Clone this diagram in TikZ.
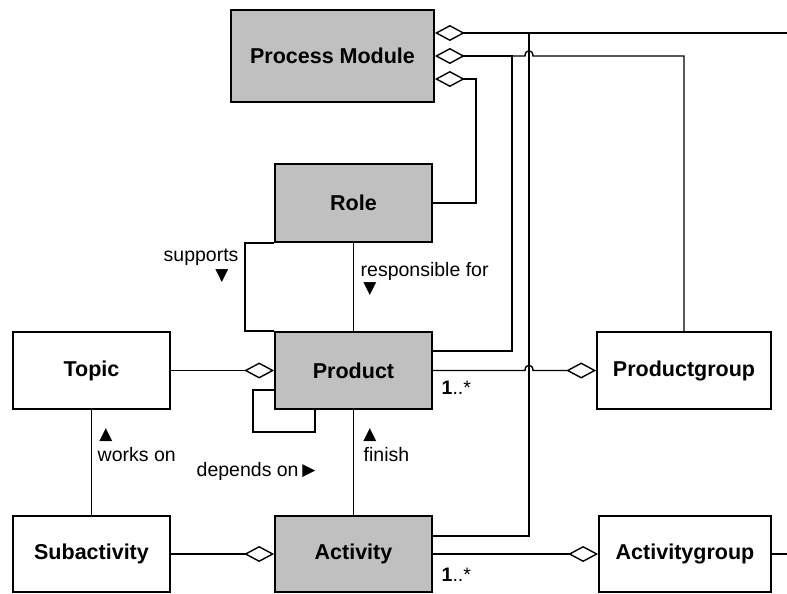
\documentclass[tikz,border=0pt]{standalone}
\usepackage{fontspec}
\setmainfont{Liberation Sans}
\newfontfamily\symfont{DejaVu Sans}
\usetikzlibrary{arrows.meta}
\definecolor{box_grey}{HTML}{C0C0C0}

\tikzset{
	cls/.style={draw, line width=1.7pt, minimum width=157pt, minimum height=77pt, inner sep=0pt, font=\fontsize{21.5}{26}\selectfont\bfseries},
	core/.style={cls, fill=box_grey},
	lbl/.style={inner sep=0pt, font=\fontsize{19.5}{23}\selectfont},
	tri/.style={inner sep=0pt, font=\fontsize{17}{20}\selectfont\symfont},
	agg/.style={{Diamond[fill=white, length=30pt, width=16pt]}-},
	aggend/.style={-{Diamond[fill=white, length=30pt, width=16pt]}},
}

\begin{document}
\begin{tikzpicture}[x=1pt, y=-1pt, line width=1.4pt]
	\useasboundingbox (0,0) rectangle (787,594);
	% classes
	\node[core, minimum width=203pt, minimum height=92pt] (pm) at (332.5,56) {Process Module};
	\node[core, minimum height=78pt] (role) at (353.5,203) {Role};
	\node[core] (product) at (353.5,370.5) {Product};
	\node[cls] (topic) at (91.5,370.5) {Topic};
	\node[cls, minimum width=174pt] (pgroup) at (684,370.5) {Productgroup};
	\node[cls, minimum height=76pt] (subact) at (91.5,554) {Subactivity};
	\node[core, minimum height=76pt] (activity) at (353.5,554) {Activity};
	\node[cls, minimum width=172pt, minimum height=76pt] (agroup) at (685,554) {Activitygroup};
	\coordinate (out1) at (787,33);
	\coordinate (out2) at (787,554);
	\coordinate (bus) at (529,33);
	\coordinate (split) at (512,56);
	% process module aggregations
	\draw[agg] ([yshift=23pt]pm.east) -- (out1);
	\draw[agg] (pm.east) -- (split) |- ([yshift=19.5pt]product.east);
	\draw (split) -- (525,56) .. controls (525,49) and (533,49) .. (533,56) -| (pgroup.north);
	\draw[agg] ([yshift=-23pt]pm.east) -- (476,79) |- (role.east);
	\draw ([yshift=18pt]activity.east) -| (bus);
	% role and product
	\draw (role.south) -- (product.north);
	\draw (role.south west) -- ++(-29,0) |- (product.north west);
	\draw ([yshift=-19.5pt]product.west) -- (253,390) -- (253,432) -| ([xshift=-38.5pt]product.south);
	\draw (product.south) -- (activity.north);
	% topic and subactivity
	\draw[aggend] (topic.east) -- (product.west);
	\draw (topic.south) -- (subact.north);
	\draw[aggend] (subact.east) -- (activity.west);
	% groups
	\draw[aggend] (product.east) -- (525,370.5) .. controls (525,363.5) and (533,363.5) .. (533,370.5) -- (pgroup.west);
	\draw[aggend] (activity.east) -- (agroup.west);
	\draw (agroup.east) -- (out2);
	% association labels
	\node[lbl, anchor=base west] (supp) at (163,261) {supports};
	\node[tri] (suppmark) at (222,276) {▼};
	\node[lbl, anchor=base west] (resp) at (360,276) {responsible for};
	\node[tri] (respmark) at (370,289) {▼};
	\node[tri] (workmark) at (106,435) {▲};
	\node[lbl, anchor=base west] (works) at (97,461) {works on};
	\node[tri] (finmark) at (370,435) {▲};
	\node[lbl, anchor=base west] (fin) at (363,461) {finish};
	\node[lbl, anchor=base west] (dep) at (196,476) {depends on};
	\node[tri] (depmark) at (309,471) {▶};
	\node[lbl, anchor=base west] (mult1) at (441,394) {\textbf{1}..*};
	\node[lbl, anchor=base west] (mult2) at (441,581) {\textbf{1}..*};
\end{tikzpicture}
\end{document}
